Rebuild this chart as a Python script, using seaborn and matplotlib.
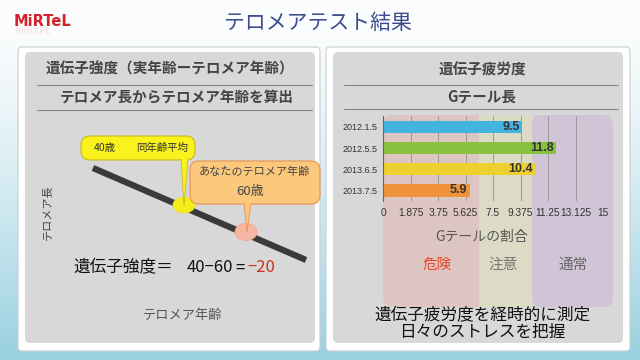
import numpy as np
import pandas as pd
import matplotlib
matplotlib.use("Agg")
import matplotlib.pyplot as plt
from matplotlib.patches import FancyBboxPatch, Rectangle, Ellipse, Polygon
import seaborn as sns

# ---------------- data ----------------
dates = ["2012.1.5", "2012.5.5", "2013.6.5", "2013.7.5"]
values = [9.5, 11.8, 10.4, 5.9]
bar_colors = ["#43B3DF", "#88C23F", "#EECF30", "#F0923A"]
xtick_vals = [0, 1.875, 3.75, 5.625, 7.5, 9.375, 11.25, 13.125, 15]
xtick_labels = ["0", "1.875", "3.75", "5.625", "7.5", "9.375", "11.25", "13.125", "15"]
zone_labels = ["危険", "注意", "通常"]

sns.set_theme(style="white")
plt.rcParams["font.family"] = ["Noto Sans CJK JP", "DejaVu Sans"]

fig = plt.figure(figsize=(6.4, 3.6), dpi=100)

# ---------------- background / decoration axes (pixel coords) ----------------
bg = fig.add_axes([0, 0, 1, 1])
bg.set_xlim(0, 640)
bg.set_ylim(360, 0)
bg.axis("off")

top = np.array([250, 252, 253]) / 255
bot = np.array([152, 208, 224]) / 255
t = np.clip((np.linspace(0, 1, 360) - 0.08) / 0.92, 0, 1) ** 1.3
grad = (top[None, :] * (1 - t[:, None]) + bot[None, :] * t[:, None])[:, None, :]
grad = np.repeat(grad, 4, axis=1)
bg.imshow(grad, extent=[0, 640, 360, 0], aspect="auto", zorder=0)

def rbox(x, y, w, h, fc, ec="none", lw=0, r=5, z=1):
    p = FancyBboxPatch((x, y), w, h, boxstyle=f"round,pad=0,rounding_size={r}",
                       fc=fc, ec=ec, lw=lw, zorder=z)
    bg.add_patch(p)
    return p

# logo + title
bg.text(14, 21, "MiRTeL", ha="left", va="center", fontsize=10.5, weight="bold",
        color="#D3222A", family=["DejaVu Sans"], zorder=3)
bg.text(14, 32, "MIRTEL", ha="left", va="center", fontsize=6.5, weight="bold",
        color="#F3C8CA", family=["DejaVu Sans"], alpha=0.35, zorder=3)
bg.text(318, 23, "テロメアテスト結果", ha="center", va="center", fontsize=15,
        color="#3B4C8F", zorder=3)

# panels
rbox(18, 47, 302, 304, "white", ec="#C9CED2", lw=0.8, r=4)
rbox(25, 52, 290, 291, "#D8D8D8", r=5, z=2)
rbox(326, 47, 304, 304, "white", ec="#C9CED2", lw=0.8, r=4)
rbox(333, 52, 290, 291, "#D8D8D8", r=5, z=2)

# ---------------- left panel ----------------
bg.text(170, 69, "遺伝子強度（実年齢ーテロメア年齢）", ha="center", va="center",
        fontsize=10.5, weight="bold", color="#444444", zorder=3)
bg.plot([37, 312], [85, 85], color="#8A8A8A", lw=0.8, zorder=3)
bg.text(177, 97, "テロメア長からテロメア年齢を算出", ha="center", va="center",
        fontsize=10.5, weight="bold", color="#444444", zorder=3)
bg.plot([37, 312], [110, 110], color="#8A8A8A", lw=0.8, zorder=3)

bg.plot([93, 306], [168, 260], color="#3A3A3A", lw=4.5, solid_capstyle="butt", zorder=3)
bg.add_patch(Ellipse((184, 205), 22, 16, fc="#F6EE1A", ec="#E8DC30", lw=0.6, zorder=4))
bg.add_patch(Ellipse((246, 232), 22, 17, fc="#F5B7A3", ec="#F0A890", lw=0.6, zorder=4))

# yellow callout
rbox(81, 136, 114, 24, "#F9F21C", ec="#C9B81E", lw=0.8, r=9, z=5)
bg.add_patch(Polygon([[181, 159.5], [188, 159.5], [184, 206]], closed=True,
                     fc="#F9F21C", ec="#C9B81E", lw=0.6, zorder=5))
bg.add_patch(Rectangle((181.6, 157), 6, 3.2, fc="#F9F21C", ec="none", zorder=5.1))
bg.text(105, 147.5, "40歳", ha="center", va="center", fontsize=7.5, color="#333333", zorder=6)
bg.text(162, 147.5, "同年齢平均", ha="center", va="center", fontsize=7.5, color="#333333", zorder=6)

# orange callout
rbox(190, 161, 130, 43, "#FBC87C", ec="#E89150", lw=0.8, r=9, z=7)
bg.add_patch(Polygon([[244, 203.5], [251, 203.5], [247, 232]], closed=True,
                     fc="#FBC87C", ec="#E89150", lw=0.6, zorder=7))
bg.add_patch(Rectangle((244.6, 201), 6, 3.2, fc="#FBC87C", ec="none", zorder=7.1))
bg.text(254, 172, "あなたのテロメア年齢", ha="center", va="center", fontsize=8,
        color="#444444", zorder=8)
bg.text(250, 192, "60歳", ha="center", va="center", fontsize=9.5, color="#444444", zorder=8)

bg.text(47, 212, "テロメア長", ha="center", va="center", rotation=90, fontsize=8,
        color="#444444", zorder=3)
bg.text(73, 268, "遺伝子強度＝", ha="left", va="center", fontsize=12, color="#111111", zorder=3)
bg.text(187, 268, "40−60", ha="left", va="center", fontsize=12, color="#111111", zorder=3)
bg.text(235, 268, "=", ha="left", va="center", fontsize=12, color="#111111", zorder=3)
bg.text(247, 268, "−20", ha="left", va="center", fontsize=12, color="#D0301E", zorder=3)
bg.text(183, 315, "テロメア年齢", ha="center", va="center", fontsize=9.5, color="#555555", zorder=3)

# ---------------- right panel decorations ----------------
bg.text(482, 70, "遺伝子疲労度", ha="center", va="center", fontsize=10.5,
        weight="bold", color="#444444", zorder=3)
bg.plot([344, 618], [85, 85], color="#8A8A8A", lw=0.8, zorder=3)
bg.text(482, 97, "Gテール長", ha="center", va="center", fontsize=10.5,
        weight="bold", color="#444444", zorder=3)
bg.plot([344, 618], [109, 109], color="#8A8A8A", lw=0.8, zorder=3)

# zones
rbox(383, 115, 104, 192, "#DDC6C1", r=9, z=3)
bg.add_patch(Rectangle((479, 115), 53, 192, fc="#DCDBC6", ec="none", zorder=3.2))
rbox(532, 115, 81, 192, "#D0C4D6", r=9, z=3.3)

bg.text(482, 237, "Gテールの割合", ha="center", va="center", fontsize=10, color="#555555", zorder=4)
bg.text(437, 265, zone_labels[0], ha="center", va="center", fontsize=10.5, color="#E8452A", zorder=4)
bg.text(503, 265, zone_labels[1], ha="center", va="center", fontsize=10.5, color="#777777", zorder=4)
bg.text(573, 265, zone_labels[2], ha="center", va="center", fontsize=10.5, color="#666666", zorder=4)

bg.text(482, 316, "遺伝子疲労度を経時的に測定", ha="center", va="center",
        fontsize=12, color="#111111", zorder=4)
bg.text(482, 333, "日々のストレスを把握", ha="center", va="center",
        fontsize=12, color="#111111", zorder=4)

# ---------------- bar chart ----------------
ax_l, ax_r = 383, 603
ax_t, ax_b = 116.4, 201
ax = fig.add_axes([ax_l / 640, (360 - ax_b) / 360, (ax_r - ax_l) / 640, (ax_b - ax_t) / 360])
ax.set_facecolor("none")

df = pd.DataFrame({"date": dates, "value": values})
sns.barplot(data=df, x="value", y="date", hue="date", palette=bar_colors,
            legend=False, ax=ax, width=0.58, saturation=1, orient="h",
            edgecolor="none")

ax.set_xlim(0, 15)
ax.set_ylim(3.5, -0.5)
ax.set_xticks(xtick_vals)
ax.set_xticklabels(xtick_labels)
ax.set_xlabel("")
ax.set_ylabel("")
ax.grid(axis="x", color="#9A9A9A", lw=0.7)
ax.grid(axis="y", visible=False)
ax.set_axisbelow(True)
for s in ["top", "right", "bottom"]:
    ax.spines[s].set_visible(False)
ax.spines["left"].set_color("#666666")
ax.spines["left"].set_linewidth(0.8)
ax.tick_params(axis="x", length=0, pad=5, labelsize=7.3, labelcolor="#333333")
ax.tick_params(axis="y", length=0, pad=4, labelsize=6.5, labelcolor="#333333")
for lab in ax.get_xticklabels() + ax.get_yticklabels():
    lab.set_family(["Liberation Sans", "DejaVu Sans"])

for i, v in enumerate(values):
    ax.text(v - 0.15, i, f"{v}", ha="right", va="center", fontsize=9,
            weight="bold", color="#333333", family=["Liberation Sans", "DejaVu Sans"])

fig.savefig("out.png", dpi=100)
